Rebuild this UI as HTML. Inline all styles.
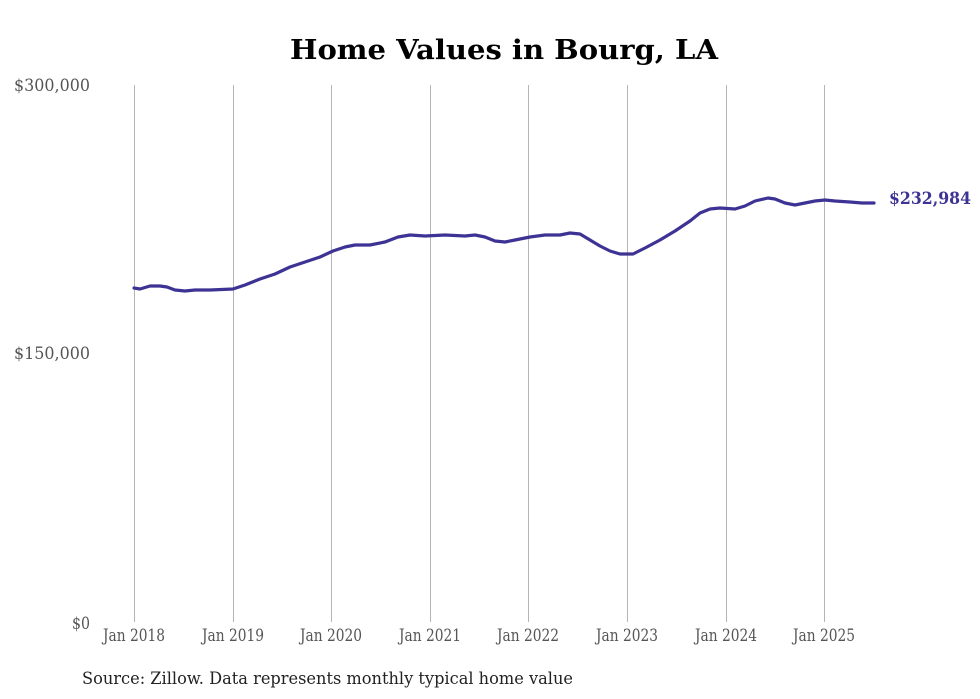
<!DOCTYPE html>
<html><head><meta charset="utf-8"><style>body{margin:0;background:#fff}svg{display:block}</style></head>
<body>
<svg width="980" height="699" xmlns="http://www.w3.org/2000/svg" font-family="DejaVu Serif, Liberation Serif, serif">
<rect width="980" height="699" fill="#fff"/>
<text x="504" y="59" text-anchor="middle" font-size="27" font-weight="bold" fill="#000" textLength="428" lengthAdjust="spacingAndGlyphs">Home Values in Bourg, LA</text>
<g stroke="#b5b5b5" stroke-width="1">
<line x1="134.5" y1="85" x2="134.5" y2="622"/><line x1="233.5" y1="85" x2="233.5" y2="622"/><line x1="331.5" y1="85" x2="331.5" y2="622"/><line x1="430.5" y1="85" x2="430.5" y2="622"/><line x1="528.5" y1="85" x2="528.5" y2="622"/><line x1="627.5" y1="85" x2="627.5" y2="622"/><line x1="726.5" y1="85" x2="726.5" y2="622"/><line x1="824.5" y1="85" x2="824.5" y2="622"/>
</g>
<g font-size="17" fill="#555">
<text x="90" y="91" text-anchor="end" textLength="76" lengthAdjust="spacingAndGlyphs">$300,000</text>
<text x="90" y="359" text-anchor="end" textLength="76" lengthAdjust="spacingAndGlyphs">$150,000</text>
<text x="90" y="629" text-anchor="end" textLength="18" lengthAdjust="spacingAndGlyphs">$0</text>
</g>
<g font-size="17" fill="#555" text-anchor="middle">
<text x="134" y="641" textLength="62" lengthAdjust="spacingAndGlyphs">Jan 2018</text>
<text x="233" y="641" textLength="62" lengthAdjust="spacingAndGlyphs">Jan 2019</text>
<text x="331" y="641" textLength="62" lengthAdjust="spacingAndGlyphs">Jan 2020</text>
<text x="430" y="641" textLength="62" lengthAdjust="spacingAndGlyphs">Jan 2021</text>
<text x="528" y="641" textLength="62" lengthAdjust="spacingAndGlyphs">Jan 2022</text>
<text x="627" y="641" textLength="62" lengthAdjust="spacingAndGlyphs">Jan 2023</text>
<text x="726" y="641" textLength="62" lengthAdjust="spacingAndGlyphs">Jan 2024</text>
<text x="824" y="641" textLength="62" lengthAdjust="spacingAndGlyphs">Jan 2025</text>
</g>
<polyline fill="none" stroke="#3d3394" stroke-width="3.2" stroke-linejoin="round" stroke-linecap="round" points="134,288 140,289 150,286 160,286 167,287 175,290 185,291 195,290 210,290 233,289 245,285 260,279 275,274 290,267 305,262 320,257 333,251 345,247 355,245 370,245 385,242 398,237 410,235 425,236 445,235 465,236 475,235 485,237 495,241 505,242 515,240 530,237 545,235 560,235 570,233 580,234 590,240 600,246 610,251 620,254 633,254 645,248 660,240 675,231 690,221 700,213 710,209 720,208 735,209 745,206 755,201 768,198 775,199 785,203 795,205 805,203 815,201 825,200 835,201 850,202 862,203 874,203"/>
<text x="889" y="204" font-size="17" font-weight="bold" fill="#3d3394" textLength="82" lengthAdjust="spacingAndGlyphs">$232,984</text>
<text x="82" y="684" font-size="17" fill="#222" textLength="491" lengthAdjust="spacingAndGlyphs">Source: Zillow. Data represents monthly typical home value</text>
</svg>
</body></html>
